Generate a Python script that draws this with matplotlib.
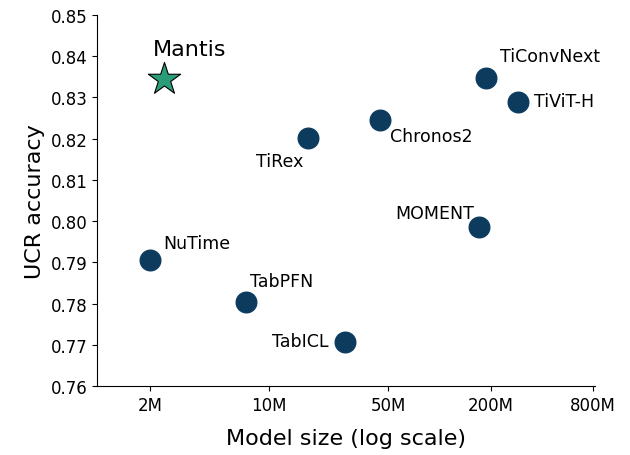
import matplotlib.pyplot as plt

# data
names = ["NuTime", "TabPFN", "TiRex", "TabICL", "Chronos2", "MOMENT", "TiConvNext", "TiViT-H"]
sizes = [2.0e6, 7.3e6, 17e6, 27.8e6, 45e6, 170e6, 189e6, 292e6]
acc = [0.7905, 0.7805, 0.8202, 0.7708, 0.8245, 0.7985, 0.8348, 0.8290]
mantis_size = 2.4e6
mantis_acc = 0.8345

# label offsets in points
offsets = {
    "NuTime": (9, 6, "left"),
    "TabPFN": (3, 8, "left"),
    "TiRex": (-4, -23, "right"),
    "TabICL": (-12, -6, "right"),
    "Chronos2": (7, -18, "left"),
    "MOMENT": (-3, 4, "right"),
    "TiConvNext": (10, 9, "left"),
    "TiViT-H": (11, -6, "left"),
}

fig = plt.figure(figsize=(6.3, 4.56), dpi=100)
ax = fig.add_axes([0.154, 0.151, 0.79, 0.814])

ax.scatter(sizes, acc, s=220, color="#0d3b5e", zorder=3)
ax.scatter([mantis_size], [mantis_acc], marker="*", s=600, color="#2a9d78",
           edgecolor="black", linewidth=0.8, zorder=3)

for n, x, y in zip(names, sizes, acc):
    dx, dy, ha = offsets[n]
    ax.annotate(n, (x, y), xytext=(dx, dy), textcoords="offset points",
                ha=ha, va="bottom", fontsize=12.5)
ax.annotate("Mantis", (mantis_size, mantis_acc), xytext=(-8, 14),
            textcoords="offset points", ha="left", va="bottom", fontsize=16)

ax.set_xscale("log")
ax.set_xlim(0.97e6, 820e6)
ax.set_ylim(0.76, 0.85)
ax.set_xticks([2e6, 10e6, 50e6, 200e6, 800e6])
ax.set_xticklabels(["2M", "10M", "50M", "200M", "800M"])
ax.minorticks_off()
ax.set_yticks([0.76 + 0.01 * i for i in range(10)])
ax.set_yticklabels([f"{0.76 + 0.01 * i:.2f}" for i in range(10)])
ax.tick_params(labelsize=12)

ax.spines["top"].set_visible(False)
ax.spines["right"].set_visible(False)

ax.set_xlabel("Model size (log scale)", fontsize=16, labelpad=10)
ax.set_ylabel("UCR accuracy", fontsize=16)

fig.savefig("out.png")
